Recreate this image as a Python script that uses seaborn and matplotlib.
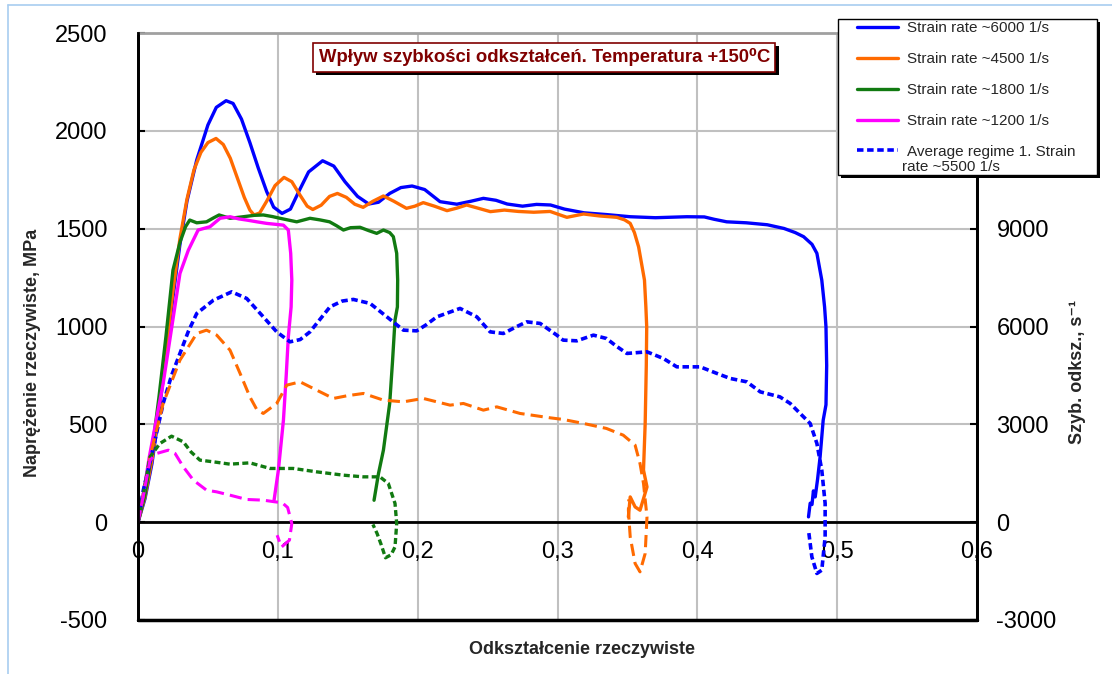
import matplotlib
matplotlib.use("Agg")
import matplotlib.pyplot as plt
import matplotlib.patheffects as pe
from matplotlib.lines import Line2D
from matplotlib.patches import Rectangle
import seaborn as sns

# ---------------- data ----------------
# Stress curves (left axis, MPa) vs true strain
x_6000 = [0, 0.005, 0.01, 0.015, 0.02, 0.025, 0.03, 0.035, 0.042, 0.05, 0.056, 0.063, 0.068, 0.074, 0.08, 0.086,
          0.092, 0.097, 0.103, 0.109, 0.115, 0.122, 0.132, 0.14, 0.148, 0.157, 0.165, 0.172, 0.18, 0.188, 0.196,
          0.205, 0.216, 0.228, 0.238, 0.247, 0.256, 0.264, 0.275, 0.285, 0.295, 0.305, 0.319, 0.335, 0.352, 0.37,
          0.3925, 0.405, 0.412, 0.421, 0.435, 0.45, 0.462, 0.47, 0.476, 0.482, 0.4855, 0.489, 0.491, 0.492, 0.4925,
          0.492, 0.490, 0.4878, 0.486, 0.4843, 0.483, 0.482, 0.4807, 0.4795]
y_6000 = [0, 120, 300, 560, 850, 1150, 1420, 1640, 1851, 2030, 2120, 2154, 2140, 2060, 1940, 1810,
          1690, 1610, 1578, 1600, 1690, 1790, 1847, 1820, 1740, 1665, 1626, 1635, 1680, 1710, 1718,
          1700, 1638, 1625, 1640, 1655, 1645, 1626, 1615, 1624, 1621, 1600, 1581, 1572, 1561, 1556,
          1561, 1560, 1548, 1535, 1530, 1520, 1501, 1480, 1459, 1420, 1374, 1237, 1100, 998, 800,
          600, 521, 334, 220, 129, 160, 90, 97, 27]

x_4500 = [0, 0.005, 0.01, 0.015, 0.02, 0.025, 0.03, 0.035, 0.04, 0.045, 0.05, 0.0558, 0.061, 0.066, 0.071, 0.076,
          0.08, 0.083, 0.087, 0.092, 0.098, 0.1044, 0.11, 0.116, 0.121, 0.125, 0.131, 0.137, 0.1426, 0.149, 0.155,
          0.161, 0.168, 0.1755, 0.183, 0.192, 0.198, 0.204, 0.212, 0.221, 0.228, 0.235, 0.243, 0.252, 0.262, 0.272,
          0.283, 0.2947, 0.3067, 0.3186, 0.33, 0.3424, 0.348, 0.352, 0.355, 0.358, 0.3622, 0.3632, 0.3638, 0.3635,
          0.3627, 0.3615, 0.364, 0.3615, 0.359, 0.3555, 0.352, 0.3507]
y_4500 = [0, 130, 320, 580, 880, 1180, 1450, 1650, 1800, 1890, 1940, 1961, 1930, 1860, 1760, 1660,
          1595, 1570, 1580, 1640, 1720, 1762, 1740, 1670, 1615, 1598, 1620, 1665, 1680, 1660, 1625,
          1609, 1640, 1667, 1640, 1604, 1615, 1633, 1615, 1592, 1605, 1621, 1605, 1587, 1595, 1588,
          1584, 1588, 1558, 1575, 1565, 1558, 1545, 1527, 1480, 1407, 1237, 1100, 998, 800,
          504, 266, 180, 120, 61, 78, 129, 27]

x_1800 = [0, 0.005, 0.01, 0.015, 0.02, 0.025, 0.03, 0.034, 0.037, 0.042, 0.049, 0.054, 0.058, 0.0658, 0.0753,
          0.083, 0.0896, 0.096, 0.1016, 0.1135, 0.123, 0.13, 0.137, 0.142, 0.1469, 0.152, 0.1588, 0.165, 0.1707,
          0.1755, 0.18, 0.1826, 0.185, 0.1857, 0.1855, 0.1838, 0.182, 0.180, 0.1755, 0.172, 0.1688]
y_1800 = [0, 140, 360, 640, 950, 1288, 1430, 1510, 1544, 1530, 1535, 1555, 1570, 1553, 1561,
          1568, 1570, 1562, 1553, 1535, 1553, 1545, 1535, 1515, 1493, 1505, 1507, 1490, 1476,
          1493, 1480, 1459, 1374, 1237, 1100, 1033, 820, 607, 368, 249, 112]

x_1200 = [0, 0.004, 0.008, 0.013, 0.018, 0.024, 0.03, 0.036, 0.043, 0.0515, 0.0587, 0.0658, 0.072, 0.0777,
          0.085, 0.092, 0.104, 0.1075, 0.1092, 0.110, 0.1095, 0.1075, 0.106, 0.104, 0.1004, 0.0973]
y_1200 = [0, 150, 330, 520, 709, 990, 1271, 1390, 1493, 1510, 1553, 1561, 1550, 1544,
          1535, 1527, 1518, 1493, 1374, 1237, 1100, 947, 750, 521, 266, 112]

# Strain-rate curves (right axis, 1/s) vs true strain
xr_6000 = [0, 0.0038, 0.01, 0.018, 0.024, 0.030, 0.036, 0.042, 0.054, 0.067, 0.0777, 0.0896, 0.0992, 0.1087,
           0.116, 0.123, 0.1373, 0.146, 0.154, 0.166, 0.178, 0.1898, 0.1993, 0.206, 0.2137, 0.2303, 0.2423,
           0.2518, 0.2613, 0.27, 0.278, 0.2876, 0.2995, 0.304, 0.3138, 0.3257, 0.335, 0.342, 0.3496, 0.364,
           0.3757, 0.3853, 0.402, 0.414, 0.4235, 0.4354, 0.445, 0.459, 0.4664, 0.4735, 0.4807, 0.4855, 0.489,
           0.4914, 0.4914, 0.489, 0.4855, 0.4819, 0.4795]
yr_6000 = [0, 981, 2100, 3640, 4500, 5174, 5850, 6400, 6808, 7063, 6860, 6296, 5836, 5530,
           5600, 5836, 6603, 6780, 6830, 6707, 6296, 5888, 5867, 6050, 6296, 6554, 6296,
           5836, 5786, 5980, 6143, 6094, 5735, 5582, 5561, 5735, 5633, 5400, 5174, 5223,
           5020, 4763, 4763, 4561, 4407, 4303, 3996, 3843, 3640, 3334, 3027, 2414, 1595,
           574, -451, -1472, -1573, -1064, -245]

xr_4500 = [0, 0.004, 0.0086, 0.018, 0.030, 0.042, 0.049, 0.0563, 0.0658, 0.073, 0.080, 0.085, 0.0896, 0.0992,
           0.1064, 0.1159, 0.1278, 0.1397, 0.15, 0.1612, 0.1755, 0.1898, 0.204, 0.2232, 0.2327, 0.247, 0.2566,
           0.2732, 0.2947, 0.304, 0.3186, 0.335, 0.347, 0.3555, 0.359, 0.3615, 0.364, 0.3627, 0.359, 0.3555,
           0.352, 0.3507, 0.351]
yr_4500 = [0, 900, 2003, 3640, 4968, 5786, 5888, 5735, 5275, 4561, 3843, 3450, 3334, 3640,
           4202, 4303, 4048, 3794, 3880, 3947, 3742, 3690, 3794, 3588, 3640, 3435, 3536,
           3334, 3200, 3150, 3027, 2874, 2668, 2362, 1800, 1187, 163, -960, -1524, -1267,
           -451, 368, 700]

xr_1800 = [0, 0.004, 0.0086, 0.0157, 0.024, 0.0324, 0.038, 0.0443, 0.0539, 0.0658, 0.080, 0.0944, 0.111,
           0.1278, 0.1469, 0.161, 0.173, 0.179, 0.1838, 0.185, 0.1838, 0.181, 0.177, 0.174, 0.171, 0.168]
yr_1800 = [0, 900, 2003, 2414, 2637, 2463, 2150, 1902, 1850, 1779, 1819, 1647, 1647,
           1543, 1441, 1390, 1390, 1187, 574, -41, -758, -1000, -1092, -700, -350, -70]

xr_1200 = [0, 0.004, 0.0086, 0.0134, 0.0217, 0.0265, 0.0324, 0.0396, 0.049, 0.0563, 0.0658, 0.0777, 0.0896,
           0.098, 0.103, 0.107, 0.110, 0.1083, 0.1026, 0.0995]
yr_1200 = [0, 850, 1902, 2107, 2208, 2107, 1696, 1288, 981, 929, 828, 696, 675,
           623, 600, 450, -41, -552, -764, -400]

x_ticks = [0, 0.1, 0.2, 0.3, 0.4, 0.5, 0.6]
x_tick_labels = ["0", "0,1", "0,2", "0,3", "0,4", "0,5", "0,6"]
y_ticks = [-500, 0, 500, 1000, 1500, 2000, 2500]
y2_ticks = [-3000, 0, 3000, 6000, 9000]

legend_labels = ["Strain rate ~6000 1/s", "Strain rate ~4500 1/s", "Strain rate ~1800 1/s",
                 "Strain rate ~1200 1/s", "Average regime 1. Strain"]
legend_label_cont = "rate ~5500 1/s"
title_text = "Wpływ szybkości odkształceń. Temperatura +150\u2070C"

BLUE = "#0000FF"
ORANGE = "#FF6A00"
GREEN = "#117A11"
MAGENTA = "#FF00FF"

# ---------------- figure ----------------
sns.set_style("white")
plt.rcParams["font.family"] = ["Liberation Sans", "DejaVu Sans"]

W, H = 1112, 674
fig = plt.figure(figsize=(W / 100, H / 100), dpi=100)
fig.patch.set_facecolor("white")

L, R, T, B = 138, 977, 33, 620
ax = fig.add_axes([L / W, 1 - B / H, (R - L) / W, (B - T) / H])
ax2 = ax.twinx()

LW = 2.4
sns.lineplot(x=x_6000, y=y_6000, sort=False, estimator=None, ax=ax, color=BLUE, lw=LW)
sns.lineplot(x=x_4500, y=y_4500, sort=False, estimator=None, ax=ax, color=ORANGE, lw=LW)
sns.lineplot(x=x_1800, y=y_1800, sort=False, estimator=None, ax=ax, color=GREEN, lw=LW)
sns.lineplot(x=x_1200, y=y_1200, sort=False, estimator=None, ax=ax, color=MAGENTA, lw=LW)

short_dash = (0, (1.8, 1.0))
long_dash = (0, (4.0, 2.0))
sns.lineplot(x=xr_6000, y=yr_6000, sort=False, estimator=None, ax=ax2, color=BLUE, lw=2.6, linestyle=short_dash)
sns.lineplot(x=xr_4500, y=yr_4500, sort=False, estimator=None, ax=ax2, color=ORANGE, lw=2.2, linestyle=long_dash)
sns.lineplot(x=xr_1800, y=yr_1800, sort=False, estimator=None, ax=ax2, color=GREEN, lw=2.4, linestyle=short_dash)
sns.lineplot(x=xr_1200, y=yr_1200, sort=False, estimator=None, ax=ax2, color=MAGENTA, lw=2.2, linestyle=long_dash)

# axes limits & ticks
ax.set_xlim(0, 0.6)
ax.set_ylim(-500, 2500)
ax2.set_ylim(-3000, 15000)
ax.set_xticks(x_ticks, x_tick_labels)
ax.set_yticks(y_ticks, [str(v) for v in y_ticks])
ax2.set_yticks(y2_ticks, [str(v) for v in y2_ticks])
ax.set_xlabel("")
ax.set_ylabel("")
ax2.set_ylabel("")

ax.grid(True, color="#c0c0c0", lw=1.5)
ax.set_axisbelow(True)

for a in (ax, ax2):
    for s in a.spines.values():
        s.set_color("black")
        s.set_linewidth(2)
ax.spines["top"].set_color("#a0a0a0")
ax2.spines["top"].set_visible(False)
ax.spines["bottom"].set_position(("data", 0))
ax2.spines["bottom"].set_visible(False)
ax.axhline(-500, color="black", lw=2.5, clip_on=False, zorder=5)

ax.tick_params(axis="x", direction="inout", length=9, width=2, pad=9, labelsize=17, colors="black")
ax.tick_params(axis="y", direction="in", length=5, width=1.5, pad=22, labelsize=17, colors="black")
ax2.tick_params(axis="y", direction="in", length=5, width=1.5, pad=14, labelsize=17, colors="black")

# axis titles
fig.text(33 / W, 1 - 353 / H, "Naprężenie rzeczywiste, MPa", rotation=90, ha="center", va="center",
         fontsize=13, fontweight="bold")
fig.text(1078 / W, 1 - 372 / H, "Szyb. odksz., s\u207b\u00b9", rotation=90, ha="center", va="center",
         fontsize=13, fontweight="bold")
fig.text(582 / W, 1 - 650 / H, "Odkształcenie rzeczywiste", ha="center", va="center",
         fontsize=13, fontweight="bold")

# title box
t = ax.text(0.2905, 2377, title_text, ha="center", va="center", fontsize=13.3, fontweight="bold",
            color="#800000", zorder=10,
            bbox=dict(boxstyle="square,pad=0.3", fc="white", ec="#800000", lw=1.2))
t.get_bbox_patch().set_path_effects([pe.withSimplePatchShadow(offset=(2.5, -2.5), shadow_rgbFace="black", alpha=1.0)])

# legend: custom frame + frameless legend
frame = Rectangle((838 / W, 1 - 175 / H), (1097 - 838) / W, (175 - 19) / H, transform=fig.transFigure,
                  fc="white", ec="black", lw=1.0, zorder=4)
frame.set_path_effects([pe.withSimplePatchShadow(offset=(2, -2), shadow_rgbFace="black", alpha=1.0)])
fig.add_artist(frame)

handles = [Line2D([], [], color=BLUE, lw=2.4),
           Line2D([], [], color=ORANGE, lw=2.4),
           Line2D([], [], color=GREEN, lw=2.4),
           Line2D([], [], color=MAGENTA, lw=2.4),
           Line2D([], [], color=BLUE, lw=2.6, linestyle=short_dash)]
leg = fig.legend(handles, legend_labels, loc="upper left", bbox_to_anchor=(857 / W, 1 - 21.5 / H),
                 fontsize=11, frameon=False, handlelength=2.7, handletextpad=0.6, labelspacing=1.1,
                 borderpad=0, borderaxespad=0)
leg.set_zorder(6)
fig.text(902 / W, 1 - 167 / H, legend_label_cont, ha="left", va="center", fontsize=11, zorder=7)

# light blue outer frame fragments
fig.add_artist(Line2D([8 / W, 8 / W], [0, 1 - 5 / H], color="#a8cdf0", lw=1.2, transform=fig.transFigure))
fig.add_artist(Line2D([8 / W, 1], [1 - 5 / H, 1 - 5 / H], color="#a8cdf0", lw=1.2, transform=fig.transFigure))

fig.savefig("out.png", dpi=100)
